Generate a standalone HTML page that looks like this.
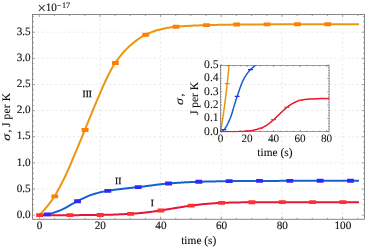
<!DOCTYPE html>
<html><head><meta charset="utf-8"><title>plot</title>
<style>html,body{margin:0;padding:0;background:#fff;}body{width:374px;height:251px;overflow:hidden;font-family:"Liberation Serif",serif;}text{stroke:#111;stroke-width:0.12px;}.cl text{stroke-width:0.25px;}.in text{stroke-width:0.04px;}.in .lb text,.in text.lb{stroke-width:0.1px;}</style>
</head><body>
<svg width="374" height="251" viewBox="0 0 374 251" style="display:block;will-change:transform" text-rendering="geometricPrecision" font-family="'Liberation Serif', serif" font-size="11.4" fill="#111">
<rect width="374" height="251" fill="#fff"/>
<path d="M99.96,14.5 V219.25 M160.62,14.5 V219.25 M221.28,14.5 V219.25 M281.94,14.5 V219.25 M342.60,14.5 V219.25 M32.5,189.02 H364.5 M32.5,162.88 H364.5 M32.5,136.75 H364.5 M32.5,110.61 H364.5 M32.5,84.47 H364.5 M32.5,58.34 H364.5 M32.5,32.20 H364.5" stroke="#e4e4e4" stroke-width="0.8" stroke-dasharray="2.1 2.4" fill="none"/>
<clipPath id="c"><rect x="32.5" y="14.5" width="332.0" height="204.75"/></clipPath>
<clipPath id="ci"><rect x="220.45" y="65.3" width="108.65000000000003" height="66.99999999999999"/></clipPath>
<g clip-path="url(#c)" fill="none" stroke-width="2.0" stroke-linecap="butt">
<path d="M39.30,215.15 L40.37,215.15 L41.44,215.15 L42.51,215.15 L43.58,215.15 L44.65,215.15 L45.71,215.15 L46.78,215.15 L47.85,215.15 L48.92,215.15 L49.99,215.15 L51.06,215.15 L52.13,215.15 L53.20,215.15 L54.27,215.15 L55.34,215.15 L56.41,215.15 L57.48,215.15 L58.54,215.15 L59.61,215.15 L60.68,215.15 L61.75,215.15 L62.82,215.15 L63.89,215.15 L64.96,215.15 L66.03,215.15 L67.10,215.15 L68.17,215.15 L69.24,215.15 L70.31,215.15 L71.37,215.15 L72.44,215.15 L73.51,215.15 L74.58,215.14 L75.65,215.14 L76.72,215.14 L77.79,215.13 L78.86,215.13 L79.93,215.12 L81.00,215.11 L82.07,215.11 L83.14,215.10 L84.20,215.09 L85.27,215.09 L86.34,215.08 L87.41,215.07 L88.48,215.06 L89.55,215.05 L90.62,215.04 L91.69,215.03 L92.76,215.02 L93.83,215.01 L94.90,215.00 L95.97,214.99 L97.03,214.97 L98.10,214.96 L99.17,214.95 L100.24,214.94 L101.31,214.92 L102.38,214.91 L103.45,214.89 L104.52,214.87 L105.59,214.84 L106.66,214.82 L107.73,214.79 L108.80,214.76 L109.86,214.73 L110.93,214.70 L112.00,214.66 L113.07,214.63 L114.14,214.59 L115.21,214.55 L116.28,214.51 L117.35,214.46 L118.42,214.42 L119.49,214.37 L120.56,214.32 L121.63,214.28 L122.69,214.23 L123.76,214.18 L124.83,214.12 L125.90,214.07 L126.97,214.02 L128.04,213.96 L129.11,213.91 L130.18,213.85 L131.25,213.79 L132.32,213.72 L133.39,213.65 L134.46,213.57 L135.52,213.49 L136.59,213.40 L137.66,213.31 L138.73,213.21 L139.80,213.11 L140.87,213.01 L141.94,212.90 L143.01,212.79 L144.08,212.68 L145.15,212.57 L146.22,212.45 L147.28,212.33 L148.35,212.20 L149.42,212.07 L150.49,211.93 L151.56,211.78 L152.63,211.63 L153.70,211.48 L154.77,211.32 L155.84,211.16 L156.91,211.00 L157.98,210.84 L159.05,210.68 L160.11,210.52 L161.18,210.36 L162.25,210.20 L163.32,210.03 L164.39,209.86 L165.46,209.69 L166.53,209.51 L167.60,209.34 L168.67,209.16 L169.74,208.98 L170.81,208.80 L171.88,208.62 L172.94,208.45 L174.01,208.27 L175.08,208.10 L176.15,207.93 L177.22,207.76 L178.29,207.59 L179.36,207.41 L180.43,207.24 L181.50,207.06 L182.57,206.89 L183.64,206.72 L184.71,206.55 L185.77,206.38 L186.84,206.22 L187.91,206.06 L188.98,205.91 L190.05,205.76 L191.12,205.61 L192.19,205.47 L193.26,205.34 L194.33,205.20 L195.40,205.07 L196.47,204.93 L197.54,204.81 L198.60,204.68 L199.67,204.56 L200.74,204.44 L201.81,204.32 L202.88,204.21 L203.95,204.11 L205.02,204.01 L206.09,203.91 L207.16,203.82 L208.23,203.73 L209.30,203.64 L210.37,203.56 L211.43,203.47 L212.50,203.39 L213.57,203.31 L214.64,203.23 L215.71,203.16 L216.78,203.10 L217.85,203.03 L218.92,202.97 L219.99,202.92 L221.06,202.88 L222.13,202.83 L223.20,202.79 L224.26,202.76 L225.33,202.72 L226.40,202.69 L227.47,202.66 L228.54,202.63 L229.61,202.60 L230.68,202.57 L231.75,202.55 L232.82,202.52 L233.89,202.50 L234.96,202.48 L236.03,202.46 L237.09,202.44 L238.16,202.42 L239.23,202.40 L240.30,202.38 L241.37,202.36 L242.44,202.34 L243.51,202.33 L244.58,202.31 L245.65,202.30 L246.72,202.28 L247.79,202.27 L248.85,202.26 L249.92,202.25 L250.99,202.24 L252.06,202.24 L253.13,202.23 L254.20,202.23 L255.27,202.22 L256.34,202.22 L257.41,202.21 L258.48,202.21 L259.55,202.21 L260.62,202.20 L261.68,202.20 L262.75,202.20 L263.82,202.19 L264.89,202.19 L265.96,202.19 L267.03,202.18 L268.10,202.18 L269.17,202.18 L270.24,202.18 L271.31,202.17 L272.38,202.17 L273.45,202.17 L274.51,202.17 L275.58,202.17 L276.65,202.17 L277.72,202.16 L278.79,202.16 L279.86,202.16 L280.93,202.16 L282.00,202.16 L283.07,202.16 L284.14,202.16 L285.21,202.16 L286.28,202.16 L287.34,202.16 L288.41,202.16 L289.48,202.16 L290.55,202.16 L291.62,202.15 L292.69,202.15 L293.76,202.15 L294.83,202.15 L295.90,202.15 L296.97,202.15 L298.04,202.15 L299.11,202.15 L300.17,202.15 L301.24,202.15 L302.31,202.15 L303.38,202.15 L304.45,202.15 L305.52,202.15 L306.59,202.15 L307.66,202.15 L308.73,202.15 L309.80,202.15 L310.87,202.15 L311.94,202.14 L313.00,202.14 L314.07,202.14 L315.14,202.14 L316.21,202.14 L317.28,202.14 L318.35,202.14 L319.42,202.14 L320.49,202.14 L321.56,202.14 L322.63,202.14 L323.70,202.14 L324.77,202.14 L325.83,202.14 L326.90,202.14 L327.97,202.14 L329.04,202.14 L330.11,202.14 L331.18,202.14 L332.25,202.14 L333.32,202.14 L334.39,202.14 L335.46,202.14 L336.53,202.14 L337.60,202.14 L338.66,202.14 L339.73,202.14 L340.80,202.14 L341.87,202.14 L342.94,202.14 L344.01,202.14 L345.08,202.14 L346.15,202.14 L347.22,202.14 L348.29,202.14 L349.36,202.14 L350.42,202.14 L351.49,202.14 L352.56,202.14 L353.63,202.13 L354.70,202.13 L355.77,202.13 L356.84,202.13 L357.91,202.13 L358.98,202.13" stroke="#E61638"/>
<path d="M39.30,215.15 L40.37,215.10 L41.44,215.03 L42.51,214.93 L43.58,214.81 L44.65,214.68 L45.71,214.53 L46.78,214.38 L47.85,214.21 L48.92,214.00 L49.99,213.75 L51.06,213.48 L52.13,213.17 L53.20,212.85 L54.27,212.50 L55.34,212.13 L56.41,211.76 L57.48,211.36 L58.54,210.97 L59.61,210.56 L60.68,210.15 L61.75,209.69 L62.82,209.20 L63.89,208.67 L64.96,208.12 L66.03,207.54 L67.10,206.94 L68.17,206.33 L69.24,205.71 L70.31,205.09 L71.37,204.47 L72.44,203.85 L73.51,203.25 L74.58,202.66 L75.65,202.09 L76.72,201.54 L77.79,201.02 L78.86,200.49 L79.93,199.96 L81.00,199.43 L82.07,198.90 L83.14,198.38 L84.20,197.86 L85.27,197.35 L86.34,196.86 L87.41,196.39 L88.48,195.93 L89.55,195.50 L90.62,195.10 L91.69,194.73 L92.76,194.38 L93.83,194.06 L94.90,193.74 L95.97,193.44 L97.03,193.15 L98.10,192.87 L99.17,192.60 L100.24,192.34 L101.31,192.09 L102.38,191.85 L103.45,191.62 L104.52,191.40 L105.59,191.20 L106.66,191.00 L107.73,190.81 L108.80,190.64 L109.86,190.46 L110.93,190.30 L112.00,190.14 L113.07,189.99 L114.14,189.84 L115.21,189.70 L116.28,189.56 L117.35,189.42 L118.42,189.29 L119.49,189.16 L120.56,189.04 L121.63,188.91 L122.69,188.79 L123.76,188.67 L124.83,188.55 L125.90,188.43 L126.97,188.31 L128.04,188.19 L129.11,188.07 L130.18,187.95 L131.25,187.83 L132.32,187.72 L133.39,187.60 L134.46,187.49 L135.52,187.38 L136.59,187.27 L137.66,187.16 L138.73,187.04 L139.80,186.91 L140.87,186.79 L141.94,186.66 L143.01,186.52 L144.08,186.39 L145.15,186.25 L146.22,186.11 L147.28,185.97 L148.35,185.83 L149.42,185.69 L150.49,185.55 L151.56,185.41 L152.63,185.27 L153.70,185.13 L154.77,184.99 L155.84,184.85 L156.91,184.72 L157.98,184.59 L159.05,184.46 L160.11,184.33 L161.18,184.21 L162.25,184.09 L163.32,183.98 L164.39,183.87 L165.46,183.77 L166.53,183.67 L167.60,183.58 L168.67,183.49 L169.74,183.41 L170.81,183.32 L171.88,183.24 L172.94,183.16 L174.01,183.08 L175.08,183.00 L176.15,182.92 L177.22,182.85 L178.29,182.77 L179.36,182.70 L180.43,182.63 L181.50,182.56 L182.57,182.49 L183.64,182.43 L184.71,182.37 L185.77,182.31 L186.84,182.25 L187.91,182.20 L188.98,182.14 L190.05,182.09 L191.12,182.05 L192.19,182.00 L193.26,181.96 L194.33,181.93 L195.40,181.89 L196.47,181.86 L197.54,181.82 L198.60,181.79 L199.67,181.76 L200.74,181.73 L201.81,181.70 L202.88,181.67 L203.95,181.64 L205.02,181.61 L206.09,181.59 L207.16,181.56 L208.23,181.54 L209.30,181.51 L210.37,181.49 L211.43,181.46 L212.50,181.44 L213.57,181.42 L214.64,181.40 L215.71,181.38 L216.78,181.36 L217.85,181.34 L218.92,181.32 L219.99,181.30 L221.06,181.28 L222.13,181.27 L223.20,181.25 L224.26,181.24 L225.33,181.22 L226.40,181.21 L227.47,181.19 L228.54,181.18 L229.61,181.17 L230.68,181.15 L231.75,181.14 L232.82,181.13 L233.89,181.11 L234.96,181.10 L236.03,181.09 L237.09,181.08 L238.16,181.07 L239.23,181.05 L240.30,181.04 L241.37,181.03 L242.44,181.02 L243.51,181.01 L244.58,181.00 L245.65,180.99 L246.72,180.98 L247.79,180.97 L248.85,180.96 L249.92,180.96 L250.99,180.95 L252.06,180.94 L253.13,180.94 L254.20,180.93 L255.27,180.93 L256.34,180.92 L257.41,180.92 L258.48,180.91 L259.55,180.91 L260.62,180.91 L261.68,180.91 L262.75,180.91 L263.82,180.90 L264.89,180.90 L265.96,180.90 L267.03,180.90 L268.10,180.90 L269.17,180.89 L270.24,180.89 L271.31,180.89 L272.38,180.89 L273.45,180.88 L274.51,180.88 L275.58,180.88 L276.65,180.88 L277.72,180.88 L278.79,180.88 L279.86,180.87 L280.93,180.87 L282.00,180.87 L283.07,180.87 L284.14,180.87 L285.21,180.87 L286.28,180.86 L287.34,180.86 L288.41,180.86 L289.48,180.86 L290.55,180.86 L291.62,180.86 L292.69,180.85 L293.76,180.85 L294.83,180.85 L295.90,180.85 L296.97,180.85 L298.04,180.85 L299.11,180.85 L300.17,180.84 L301.24,180.84 L302.31,180.84 L303.38,180.84 L304.45,180.84 L305.52,180.84 L306.59,180.84 L307.66,180.84 L308.73,180.83 L309.80,180.83 L310.87,180.83 L311.94,180.83 L313.00,180.83 L314.07,180.83 L315.14,180.83 L316.21,180.83 L317.28,180.83 L318.35,180.83 L319.42,180.83 L320.49,180.82 L321.56,180.82 L322.63,180.82 L323.70,180.82 L324.77,180.82 L325.83,180.82 L326.90,180.82 L327.97,180.82 L329.04,180.82 L330.11,180.82 L331.18,180.82 L332.25,180.82 L333.32,180.82 L334.39,180.82 L335.46,180.81 L336.53,180.81 L337.60,180.81 L338.66,180.81 L339.73,180.81 L340.80,180.81 L341.87,180.81 L342.94,180.81 L344.01,180.81 L345.08,180.81 L346.15,180.81 L347.22,180.81 L348.29,180.81 L349.36,180.81 L350.42,180.81 L351.49,180.81 L352.56,180.81 L353.63,180.81 L354.70,180.81 L355.77,180.81 L356.84,180.81 L357.91,180.81 L358.98,180.81" stroke="#1560D0"/>
<path d="M39.30,215.15 L40.37,214.10 L41.44,213.00 L42.51,211.86 L43.58,210.67 L44.65,209.45 L45.71,208.20 L46.78,206.91 L47.85,205.58 L48.92,204.22 L49.99,202.81 L51.06,201.35 L52.13,199.84 L53.20,198.27 L54.27,196.64 L55.34,194.94 L56.41,193.15 L57.48,191.28 L58.54,189.35 L59.61,187.36 L60.68,185.32 L61.75,183.23 L62.82,181.10 L63.89,178.94 L64.96,176.72 L66.03,174.44 L67.10,172.09 L68.17,169.70 L69.24,167.26 L70.31,164.78 L71.37,162.28 L72.44,159.76 L73.51,157.22 L74.58,154.68 L75.65,152.15 L76.72,149.62 L77.79,147.07 L78.86,144.49 L79.93,141.88 L81.00,139.26 L82.07,136.63 L83.14,134.00 L84.20,131.39 L85.27,128.79 L86.34,126.18 L87.41,123.56 L88.48,120.94 L89.55,118.32 L90.62,115.70 L91.69,113.10 L92.76,110.50 L93.83,107.92 L94.90,105.36 L95.97,102.83 L97.03,100.33 L98.10,97.84 L99.17,95.34 L100.24,92.83 L101.31,90.34 L102.38,87.88 L103.45,85.44 L104.52,83.05 L105.59,80.72 L106.66,78.45 L107.73,76.27 L108.80,74.16 L109.86,72.09 L110.93,70.08 L112.00,68.13 L113.07,66.27 L114.14,64.53 L115.21,62.92 L116.28,61.40 L117.35,59.92 L118.42,58.49 L119.49,57.09 L120.56,55.75 L121.63,54.44 L122.69,53.18 L123.76,51.97 L124.83,50.79 L125.90,49.67 L126.97,48.59 L128.04,47.55 L129.11,46.56 L130.18,45.61 L131.25,44.68 L132.32,43.76 L133.39,42.87 L134.46,42.01 L135.52,41.16 L136.59,40.35 L137.66,39.56 L138.73,38.80 L139.80,38.07 L140.87,37.38 L141.94,36.72 L143.01,36.10 L144.08,35.51 L145.15,34.97 L146.22,34.46 L147.28,33.97 L148.35,33.49 L149.42,33.03 L150.49,32.59 L151.56,32.16 L152.63,31.76 L153.70,31.37 L154.77,31.00 L155.84,30.65 L156.91,30.32 L157.98,30.01 L159.05,29.72 L160.11,29.45 L161.18,29.20 L162.25,28.96 L163.32,28.72 L164.39,28.49 L165.46,28.27 L166.53,28.05 L167.60,27.85 L168.67,27.66 L169.74,27.48 L170.81,27.31 L171.88,27.16 L172.94,27.02 L174.01,26.89 L175.08,26.78 L176.15,26.69 L177.22,26.60 L178.29,26.51 L179.36,26.43 L180.43,26.35 L181.50,26.28 L182.57,26.20 L183.64,26.13 L184.71,26.06 L185.77,26.00 L186.84,25.94 L187.91,25.88 L188.98,25.82 L190.05,25.76 L191.12,25.71 L192.19,25.66 L193.26,25.61 L194.33,25.56 L195.40,25.51 L196.47,25.47 L197.54,25.43 L198.60,25.39 L199.67,25.35 L200.74,25.31 L201.81,25.28 L202.88,25.24 L203.95,25.21 L205.02,25.18 L206.09,25.15 L207.16,25.12 L208.23,25.09 L209.30,25.06 L210.37,25.04 L211.43,25.01 L212.50,24.98 L213.57,24.96 L214.64,24.93 L215.71,24.91 L216.78,24.88 L217.85,24.86 L218.92,24.84 L219.99,24.82 L221.06,24.79 L222.13,24.77 L223.20,24.75 L224.26,24.74 L225.33,24.72 L226.40,24.70 L227.47,24.68 L228.54,24.67 L229.61,24.65 L230.68,24.64 L231.75,24.62 L232.82,24.61 L233.89,24.60 L234.96,24.59 L236.03,24.58 L237.09,24.57 L238.16,24.56 L239.23,24.55 L240.30,24.54 L241.37,24.53 L242.44,24.52 L243.51,24.51 L244.58,24.50 L245.65,24.50 L246.72,24.49 L247.79,24.48 L248.85,24.47 L249.92,24.46 L250.99,24.46 L252.06,24.45 L253.13,24.44 L254.20,24.43 L255.27,24.43 L256.34,24.42 L257.41,24.41 L258.48,24.41 L259.55,24.40 L260.62,24.40 L261.68,24.39 L262.75,24.38 L263.82,24.38 L264.89,24.37 L265.96,24.37 L267.03,24.36 L268.10,24.36 L269.17,24.35 L270.24,24.35 L271.31,24.35 L272.38,24.34 L273.45,24.34 L274.51,24.33 L275.58,24.33 L276.65,24.33 L277.72,24.32 L278.79,24.32 L279.86,24.32 L280.93,24.31 L282.00,24.31 L283.07,24.31 L284.14,24.31 L285.21,24.30 L286.28,24.30 L287.34,24.30 L288.41,24.30 L289.48,24.30 L290.55,24.29 L291.62,24.29 L292.69,24.29 L293.76,24.29 L294.83,24.28 L295.90,24.28 L296.97,24.28 L298.04,24.28 L299.11,24.28 L300.17,24.27 L301.24,24.27 L302.31,24.27 L303.38,24.27 L304.45,24.27 L305.52,24.26 L306.59,24.26 L307.66,24.26 L308.73,24.26 L309.80,24.26 L310.87,24.25 L311.94,24.25 L313.00,24.25 L314.07,24.25 L315.14,24.25 L316.21,24.25 L317.28,24.24 L318.35,24.24 L319.42,24.24 L320.49,24.24 L321.56,24.24 L322.63,24.24 L323.70,24.23 L324.77,24.23 L325.83,24.23 L326.90,24.23 L327.97,24.23 L329.04,24.23 L330.11,24.23 L331.18,24.23 L332.25,24.22 L333.32,24.22 L334.39,24.22 L335.46,24.22 L336.53,24.22 L337.60,24.22 L338.66,24.22 L339.73,24.22 L340.80,24.22 L341.87,24.21 L342.94,24.21 L344.01,24.21 L345.08,24.21 L346.15,24.21 L347.22,24.21 L348.29,24.21 L349.36,24.21 L350.42,24.21 L351.49,24.21 L352.56,24.21 L353.63,24.21 L354.70,24.21 L355.77,24.21 L356.84,24.21 L357.91,24.21 L358.98,24.21" stroke="#EB9610"/>
</g>
<rect x="43.78" y="212.42" width="6.8" height="3.9" rx="0.2" fill="#3028FA"/><rect x="74.11" y="199.35" width="6.8" height="3.9" rx="0.2" fill="#3028FA"/><rect x="104.44" y="188.89" width="6.8" height="3.9" rx="0.2" fill="#3028FA"/><rect x="134.77" y="185.18" width="6.8" height="3.9" rx="0.2" fill="#3028FA"/><rect x="165.10" y="181.58" width="6.8" height="3.9" rx="0.2" fill="#3028FA"/><rect x="195.43" y="179.84" width="6.8" height="3.9" rx="0.2" fill="#3028FA"/><rect x="225.76" y="179.22" width="6.8" height="3.9" rx="0.2" fill="#3028FA"/><rect x="256.09" y="178.96" width="6.8" height="3.9" rx="0.2" fill="#3028FA"/><rect x="286.42" y="178.91" width="6.8" height="3.9" rx="0.2" fill="#3028FA"/><rect x="316.75" y="178.87" width="6.8" height="3.9" rx="0.2" fill="#3028FA"/><rect x="347.08" y="178.86" width="6.8" height="3.9" rx="0.2" fill="#3028FA"/><rect x="51.36" y="194.38" width="6.8" height="3.9" rx="0.2" fill="#FF8000"/><rect x="81.69" y="128.00" width="6.8" height="3.9" rx="0.2" fill="#FF8000"/><rect x="112.02" y="61.09" width="6.8" height="3.9" rx="0.2" fill="#FF8000"/><rect x="142.35" y="32.87" width="6.8" height="3.9" rx="0.2" fill="#FF8000"/><rect x="172.68" y="24.77" width="6.8" height="3.9" rx="0.2" fill="#FF8000"/><rect x="203.02" y="23.20" width="6.8" height="3.9" rx="0.2" fill="#FF8000"/><rect x="233.34" y="22.62" width="6.8" height="3.9" rx="0.2" fill="#FF8000"/><rect x="263.68" y="22.41" width="6.8" height="3.9" rx="0.2" fill="#FF8000"/><rect x="294.01" y="22.33" width="6.8" height="3.9" rx="0.2" fill="#FF8000"/><rect x="324.34" y="22.28" width="6.8" height="3.9" rx="0.2" fill="#FF8000"/><rect x="66.53" y="213.20" width="6.8" height="3.9" rx="0.2" fill="#FF3030"/><rect x="96.86" y="212.99" width="6.8" height="3.9" rx="0.2" fill="#FF3030"/><rect x="127.19" y="211.89" width="6.8" height="3.9" rx="0.2" fill="#FF3030"/><rect x="157.52" y="208.50" width="6.8" height="3.9" rx="0.2" fill="#FF3030"/><rect x="187.85" y="203.69" width="6.8" height="3.9" rx="0.2" fill="#FF3030"/><rect x="218.18" y="200.92" width="6.8" height="3.9" rx="0.2" fill="#FF3030"/><rect x="248.51" y="200.29" width="6.8" height="3.9" rx="0.2" fill="#FF3030"/><rect x="278.84" y="200.21" width="6.8" height="3.9" rx="0.2" fill="#FF3030"/><rect x="309.17" y="200.19" width="6.8" height="3.9" rx="0.2" fill="#FF3030"/><rect x="339.50" y="200.19" width="6.8" height="3.9" rx="0.2" fill="#FF3030"/><rect x="36.20" y="213.20" width="6.8" height="3.9" rx="0.2" fill="#FF3030"/>
<rect x="32.5" y="14.5" width="332.0" height="204.75" fill="none" stroke="#6a6a6a" stroke-width="0.8"/>
<path d="M39.30,219.25 v-2.6 M39.30,14.5 v2.6 M54.46,219.25 v-1.5 M54.46,14.5 v1.5 M69.63,219.25 v-1.5 M69.63,14.5 v1.5 M84.79,219.25 v-1.5 M84.79,14.5 v1.5 M99.96,219.25 v-2.6 M99.96,14.5 v2.6 M115.12,219.25 v-1.5 M115.12,14.5 v1.5 M130.29,219.25 v-1.5 M130.29,14.5 v1.5 M145.45,219.25 v-1.5 M145.45,14.5 v1.5 M160.62,219.25 v-2.6 M160.62,14.5 v2.6 M175.78,219.25 v-1.5 M175.78,14.5 v1.5 M190.95,219.25 v-1.5 M190.95,14.5 v1.5 M206.12,219.25 v-1.5 M206.12,14.5 v1.5 M221.28,219.25 v-2.6 M221.28,14.5 v2.6 M236.44,219.25 v-1.5 M236.44,14.5 v1.5 M251.61,219.25 v-1.5 M251.61,14.5 v1.5 M266.77,219.25 v-1.5 M266.77,14.5 v1.5 M281.94,219.25 v-2.6 M281.94,14.5 v2.6 M297.11,219.25 v-1.5 M297.11,14.5 v1.5 M312.27,219.25 v-1.5 M312.27,14.5 v1.5 M327.44,219.25 v-1.5 M327.44,14.5 v1.5 M342.60,219.25 v-2.6 M342.60,14.5 v2.6 M357.76,219.25 v-1.5 M357.76,14.5 v1.5 M32.5,215.15 h2.6 M364.5,215.15 h-2.6 M32.5,209.92 h1.5 M364.5,209.92 h-1.5 M32.5,204.70 h1.5 M364.5,204.70 h-1.5 M32.5,199.47 h1.5 M364.5,199.47 h-1.5 M32.5,194.24 h1.5 M364.5,194.24 h-1.5 M32.5,189.02 h2.6 M364.5,189.02 h-2.6 M32.5,183.79 h1.5 M364.5,183.79 h-1.5 M32.5,178.56 h1.5 M364.5,178.56 h-1.5 M32.5,173.33 h1.5 M364.5,173.33 h-1.5 M32.5,168.11 h1.5 M364.5,168.11 h-1.5 M32.5,162.88 h2.6 M364.5,162.88 h-2.6 M32.5,157.65 h1.5 M364.5,157.65 h-1.5 M32.5,152.43 h1.5 M364.5,152.43 h-1.5 M32.5,147.20 h1.5 M364.5,147.20 h-1.5 M32.5,141.97 h1.5 M364.5,141.97 h-1.5 M32.5,136.75 h2.6 M364.5,136.75 h-2.6 M32.5,131.52 h1.5 M364.5,131.52 h-1.5 M32.5,126.29 h1.5 M364.5,126.29 h-1.5 M32.5,121.06 h1.5 M364.5,121.06 h-1.5 M32.5,115.84 h1.5 M364.5,115.84 h-1.5 M32.5,110.61 h2.6 M364.5,110.61 h-2.6 M32.5,105.38 h1.5 M364.5,105.38 h-1.5 M32.5,100.16 h1.5 M364.5,100.16 h-1.5 M32.5,94.93 h1.5 M364.5,94.93 h-1.5 M32.5,89.70 h1.5 M364.5,89.70 h-1.5 M32.5,84.47 h2.6 M364.5,84.47 h-2.6 M32.5,79.25 h1.5 M364.5,79.25 h-1.5 M32.5,74.02 h1.5 M364.5,74.02 h-1.5 M32.5,68.79 h1.5 M364.5,68.79 h-1.5 M32.5,63.57 h1.5 M364.5,63.57 h-1.5 M32.5,58.34 h2.6 M364.5,58.34 h-2.6 M32.5,53.11 h1.5 M364.5,53.11 h-1.5 M32.5,47.89 h1.5 M364.5,47.89 h-1.5 M32.5,42.66 h1.5 M364.5,42.66 h-1.5 M32.5,37.43 h1.5 M364.5,37.43 h-1.5 M32.5,32.20 h2.6 M364.5,32.20 h-2.6 M32.5,26.98 h1.5 M364.5,26.98 h-1.5 M32.5,21.75 h1.5 M364.5,21.75 h-1.5 M32.5,16.52 h1.5 M364.5,16.52 h-1.5" stroke="#808080" stroke-width="0.7" fill="none"/>
<text x="39.60" y="228.95" font-size="11.2" text-anchor="middle">0</text>
<text x="100.26" y="228.95" font-size="11.2" text-anchor="middle">20</text>
<text x="160.92" y="228.95" font-size="11.2" text-anchor="middle">40</text>
<text x="221.58" y="228.95" font-size="11.2" text-anchor="middle">60</text>
<text x="282.24" y="228.95" font-size="11.2" text-anchor="middle">80</text>
<text x="342.90" y="228.95" font-size="11.2" text-anchor="middle">100</text>
<text x="30.7" y="217.80" font-size="11.2" text-anchor="end">0.0</text>
<text x="30.7" y="191.67" font-size="11.2" text-anchor="end">0.5</text>
<text x="30.7" y="165.53" font-size="11.2" text-anchor="end">1.0</text>
<text x="30.7" y="139.40" font-size="11.2" text-anchor="end">1.5</text>
<text x="30.7" y="113.26" font-size="11.2" text-anchor="end">2.0</text>
<text x="30.7" y="87.12" font-size="11.2" text-anchor="end">2.5</text>
<text x="30.7" y="60.99" font-size="11.2" text-anchor="end">3.0</text>
<text x="30.7" y="34.85" font-size="11.2" text-anchor="end">3.5</text>
<text x="198.75" y="243.9" text-anchor="middle">time (s)</text>
<g transform="translate(10,0) rotate(-90)" font-size="11.5"><text x="-140.7" y="0" font-style="italic" textLength="6.85" lengthAdjust="spacingAndGlyphs">σ</text><text x="-132.6" y="0">,</text><text x="-127.0" y="0" textLength="34" lengthAdjust="spacing">J per K</text></g>
<text x="37.5" y="13.2" font-size="15">×</text><text x="45.65" y="11.35" font-size="11.2">10</text><text x="56.7" y="7.5" font-size="8.2">−</text><text x="61.9" y="7.5" font-size="8.2">17</text>
<g font-size="9.4" text-anchor="middle" fill="#000" style="stroke-width:0.25px" class="cl"><text x="152.3" y="205.6">I</text><text x="118.2" y="183.9">II</text><text x="87.3" y="96.5">III</text></g>
<g clip-path="url(#ci)" fill="none" stroke-width="1.5">
<path d="M220.60,131.70 L220.96,131.70 L221.33,131.70 L221.69,131.70 L222.05,131.70 L222.42,131.70 L222.78,131.70 L223.14,131.70 L223.51,131.70 L223.87,131.70 L224.23,131.70 L224.60,131.70 L224.96,131.70 L225.32,131.70 L225.69,131.70 L226.05,131.70 L226.41,131.70 L226.78,131.70 L227.14,131.70 L227.50,131.70 L227.87,131.70 L228.23,131.70 L228.59,131.70 L228.96,131.70 L229.32,131.70 L229.68,131.70 L230.05,131.70 L230.41,131.70 L230.77,131.70 L231.14,131.70 L231.50,131.70 L231.86,131.70 L232.23,131.70 L232.59,131.70 L232.95,131.70 L233.32,131.70 L233.68,131.70 L234.04,131.70 L234.41,131.70 L234.77,131.70 L235.14,131.69 L235.50,131.69 L235.86,131.68 L236.23,131.68 L236.59,131.67 L236.95,131.66 L237.32,131.65 L237.68,131.65 L238.04,131.63 L238.41,131.62 L238.77,131.61 L239.13,131.60 L239.50,131.59 L239.86,131.57 L240.22,131.56 L240.59,131.54 L240.95,131.52 L241.31,131.51 L241.68,131.49 L242.04,131.47 L242.40,131.45 L242.77,131.43 L243.13,131.41 L243.49,131.39 L243.86,131.37 L244.22,131.35 L244.58,131.33 L244.95,131.31 L245.31,131.28 L245.67,131.26 L246.04,131.24 L246.40,131.21 L246.76,131.19 L247.13,131.16 L247.49,131.14 L247.85,131.11 L248.22,131.07 L248.58,131.04 L248.94,131.00 L249.31,130.95 L249.67,130.90 L250.03,130.85 L250.40,130.80 L250.76,130.74 L251.12,130.68 L251.49,130.62 L251.85,130.55 L252.21,130.48 L252.58,130.41 L252.94,130.34 L253.30,130.26 L253.67,130.18 L254.03,130.10 L254.39,130.02 L254.76,129.93 L255.12,129.84 L255.48,129.75 L255.85,129.66 L256.21,129.56 L256.57,129.47 L256.94,129.37 L257.30,129.27 L257.66,129.17 L258.03,129.06 L258.39,128.96 L258.75,128.85 L259.12,128.74 L259.48,128.63 L259.84,128.52 L260.21,128.41 L260.57,128.29 L260.93,128.17 L261.30,128.03 L261.66,127.89 L262.03,127.74 L262.39,127.58 L262.75,127.41 L263.12,127.23 L263.48,127.05 L263.84,126.86 L264.21,126.66 L264.57,126.46 L264.93,126.26 L265.30,126.05 L265.66,125.83 L266.02,125.61 L266.39,125.39 L266.75,125.17 L267.11,124.94 L267.48,124.71 L267.84,124.46 L268.20,124.20 L268.57,123.94 L268.93,123.66 L269.29,123.38 L269.66,123.09 L270.02,122.79 L270.38,122.49 L270.75,122.18 L271.11,121.87 L271.47,121.56 L271.84,121.24 L272.20,120.92 L272.56,120.60 L272.93,120.28 L273.29,119.96 L273.65,119.65 L274.02,119.33 L274.38,119.00 L274.74,118.67 L275.11,118.33 L275.47,117.99 L275.83,117.64 L276.20,117.30 L276.56,116.95 L276.92,116.59 L277.29,116.24 L277.65,115.89 L278.01,115.53 L278.38,115.18 L278.74,114.83 L279.10,114.48 L279.47,114.13 L279.83,113.79 L280.19,113.45 L280.56,113.11 L280.92,112.77 L281.28,112.43 L281.65,112.08 L282.01,111.74 L282.37,111.39 L282.74,111.05 L283.10,110.70 L283.46,110.36 L283.83,110.02 L284.19,109.69 L284.55,109.35 L284.92,109.03 L285.28,108.71 L285.64,108.40 L286.01,108.09 L286.37,107.80 L286.73,107.51 L287.10,107.23 L287.46,106.95 L287.82,106.68 L288.19,106.41 L288.55,106.14 L288.92,105.88 L289.28,105.62 L289.64,105.36 L290.01,105.11 L290.37,104.86 L290.73,104.62 L291.10,104.38 L291.46,104.16 L291.82,103.93 L292.19,103.72 L292.55,103.51 L292.91,103.31 L293.28,103.12 L293.64,102.94 L294.00,102.76 L294.37,102.58 L294.73,102.40 L295.09,102.22 L295.46,102.05 L295.82,101.89 L296.18,101.72 L296.55,101.56 L296.91,101.41 L297.27,101.26 L297.64,101.12 L298.00,100.98 L298.36,100.85 L298.73,100.73 L299.09,100.62 L299.45,100.52 L299.82,100.42 L300.18,100.33 L300.54,100.25 L300.91,100.17 L301.27,100.10 L301.63,100.03 L302.00,99.96 L302.36,99.89 L302.72,99.83 L303.09,99.77 L303.45,99.71 L303.81,99.65 L304.18,99.60 L304.54,99.55 L304.90,99.50 L305.27,99.45 L305.63,99.41 L305.99,99.37 L306.36,99.32 L306.72,99.28 L307.08,99.25 L307.45,99.21 L307.81,99.17 L308.17,99.13 L308.54,99.09 L308.90,99.06 L309.26,99.02 L309.63,98.99 L309.99,98.95 L310.35,98.92 L310.72,98.89 L311.08,98.87 L311.44,98.84 L311.81,98.82 L312.17,98.80 L312.53,98.78 L312.90,98.77 L313.26,98.75 L313.62,98.74 L313.99,98.73 L314.35,98.72 L314.71,98.71 L315.08,98.71 L315.44,98.70 L315.81,98.69 L316.17,98.68 L316.53,98.67 L316.90,98.67 L317.26,98.66 L317.62,98.65 L317.99,98.64 L318.35,98.64 L318.71,98.63 L319.08,98.63 L319.44,98.62 L319.80,98.61 L320.17,98.61 L320.53,98.60 L320.89,98.60 L321.26,98.59 L321.62,98.59 L321.98,98.58 L322.35,98.58 L322.71,98.58 L323.07,98.57 L323.44,98.57 L323.80,98.57 L324.16,98.56 L324.53,98.56 L324.89,98.56 L325.25,98.56 L325.62,98.55 L325.98,98.55 L326.34,98.55 L326.71,98.55 L327.07,98.55 L327.43,98.55 L327.80,98.55 L328.16,98.54 L328.52,98.54 L328.89,98.54 L329.25,98.54" stroke="#E61638"/>
<path d="M220.60,131.70 L220.96,131.61 L221.33,131.48 L221.69,131.31 L222.05,131.11 L222.42,130.88 L222.78,130.62 L223.14,130.34 L223.51,130.04 L223.87,129.74 L224.23,129.40 L224.60,129.00 L224.96,128.55 L225.32,128.05 L225.69,127.51 L226.05,126.92 L226.41,126.29 L226.78,125.63 L227.14,124.93 L227.50,124.21 L227.87,123.47 L228.23,122.70 L228.59,121.92 L228.96,121.13 L229.32,120.33 L229.68,119.53 L230.05,118.68 L230.41,117.76 L230.77,116.79 L231.14,115.76 L231.50,114.69 L231.86,113.58 L232.23,112.43 L232.59,111.25 L232.95,110.05 L233.32,108.83 L233.68,107.60 L234.04,106.37 L234.41,105.13 L234.77,103.90 L235.14,102.68 L235.50,101.48 L235.86,100.30 L236.23,99.15 L236.59,98.03 L236.95,96.95 L237.32,95.92 L237.68,94.88 L238.04,93.83 L238.41,92.77 L238.77,91.72 L239.13,90.66 L239.50,89.62 L239.86,88.58 L240.22,87.55 L240.59,86.55 L240.95,85.56 L241.31,84.60 L241.68,83.67 L242.04,82.77 L242.40,81.90 L242.77,81.08 L243.13,80.30 L243.49,79.56 L243.86,78.88 L244.22,78.23 L244.58,77.59 L244.95,76.97 L245.31,76.37 L245.67,75.78 L246.04,75.21 L246.40,74.66 L246.76,74.13 L247.13,73.61 L247.49,73.11 L247.85,72.62 L248.22,72.15 L248.58,71.70 L248.94,71.27 L249.31,70.85 L249.67,70.44 L250.03,70.06 L250.40,69.68 L250.76,69.33 L251.12,68.98 L251.49,68.64 L251.85,68.32 L252.21,68.00 L252.58,67.69 L252.94,67.39 L253.30,67.10 L253.67,66.81 L254.03,66.53 L254.39,66.26 L254.76,66.00 L255.12,65.73 L255.48,65.48 L255.85,65.23 L256.21,64.98 L256.57,64.73 L256.94,64.49 L257.30,64.25 L257.66,64.01 L258.03,63.77 L258.39,63.53 L258.75,63.30 L259.12,63.06 L259.48,62.82 L259.84,62.58 L260.21,62.34 L260.57,62.10 L260.93,61.87 L261.30,61.64 L261.66,61.42 L262.03,61.21 L262.39,60.99 L262.75,60.77 L263.12,60.54 L263.48,60.32 L263.84,60.08 L264.21,59.84 L264.57,59.59 L264.93,59.34 L265.30,59.08 L265.66,58.82 L266.02,58.55 L266.39,58.29 L266.75,58.01 L267.11,57.74 L267.48,57.46 L267.84,57.18 L268.20,56.90 L268.57,56.62 L268.93,56.34 L269.29,56.06 L269.66,55.78 L270.02,55.50 L270.38,55.22 L270.75,54.95 L271.11,54.67 L271.47,54.40 L271.84,54.13 L272.20,53.87 L272.56,53.61 L272.93,53.36 L273.29,53.11 L273.65,52.86 L274.02,52.62 L274.38,52.39 L274.74,52.17 L275.11,51.95 L275.47,51.74 L275.83,51.54 L276.20,51.35 L276.56,51.16 L276.92,50.99 L277.29,50.82 L277.65,50.65 L278.01,50.49 L278.38,50.32 L278.74,50.16 L279.10,50.00 L279.47,49.84 L279.83,49.68 L280.19,49.53 L280.56,49.38 L280.92,49.23 L281.28,49.08 L281.65,48.94 L282.01,48.80 L282.37,48.66 L282.74,48.52 L283.10,48.39 L283.46,48.26 L283.83,48.14 L284.19,48.01 L284.55,47.90 L284.92,47.78 L285.28,47.67 L285.64,47.56 L286.01,47.46 L286.37,47.36 L286.73,47.27 L287.10,47.18 L287.46,47.09 L287.82,47.01 L288.19,46.93 L288.55,46.86 L288.92,46.79 L289.28,46.73 L289.64,46.66 L290.01,46.60 L290.37,46.53 L290.73,46.47 L291.10,46.41 L291.46,46.35 L291.82,46.29 L292.19,46.24 L292.55,46.18 L292.91,46.12 L293.28,46.07 L293.64,46.02 L294.00,45.97 L294.37,45.92 L294.73,45.87 L295.09,45.82 L295.46,45.77 L295.82,45.73 L296.18,45.68 L296.55,45.64 L296.91,45.59 L297.27,45.55 L297.64,45.51 L298.00,45.47 L298.36,45.43 L298.73,45.40 L299.09,45.36 L299.45,45.32 L299.82,45.29 L300.18,45.25 L300.54,45.22 L300.91,45.19 L301.27,45.16 L301.63,45.13 L302.00,45.10 L302.36,45.07 L302.72,45.04 L303.09,45.01 L303.45,44.99 L303.81,44.96 L304.18,44.94 L304.54,44.91 L304.90,44.88 L305.27,44.86 L305.63,44.83 L305.99,44.81 L306.36,44.79 L306.72,44.76 L307.08,44.74 L307.45,44.71 L307.81,44.69 L308.17,44.67 L308.54,44.65 L308.90,44.62 L309.26,44.60 L309.63,44.58 L309.99,44.56 L310.35,44.54 L310.72,44.52 L311.08,44.50 L311.44,44.49 L311.81,44.47 L312.17,44.45 L312.53,44.44 L312.90,44.42 L313.26,44.41 L313.62,44.40 L313.99,44.38 L314.35,44.37 L314.71,44.36 L315.08,44.35 L315.44,44.34 L315.81,44.34 L316.17,44.33 L316.53,44.32 L316.90,44.32 L317.26,44.32 L317.62,44.31 L317.99,44.31 L318.35,44.30 L318.71,44.30 L319.08,44.29 L319.44,44.29 L319.80,44.29 L320.17,44.28 L320.53,44.28 L320.89,44.27 L321.26,44.27 L321.62,44.26 L321.98,44.26 L322.35,44.26 L322.71,44.25 L323.07,44.25 L323.44,44.25 L323.80,44.24 L324.16,44.24 L324.53,44.23 L324.89,44.23 L325.25,44.23 L325.62,44.22 L325.98,44.22 L326.34,44.22 L326.71,44.21 L327.07,44.21 L327.43,44.21 L327.80,44.20 L328.16,44.20 L328.52,44.20 L328.89,44.19 L329.25,44.19" stroke="#1560D0"/>
<path d="M220.60,131.70 L220.96,129.62 L221.33,127.46 L221.69,125.24 L222.05,122.96 L222.42,120.61 L222.78,118.21 L223.14,115.75 L223.51,113.23 L223.87,110.66 L224.23,108.03 L224.60,105.35 L224.96,102.60 L225.32,99.79 L225.69,96.89 L226.05,93.92 L226.41,90.86 L226.78,87.70 L227.14,84.44 L227.50,81.08 L227.87,77.58 L228.23,73.96 L228.59,70.23 L228.96,66.39 L229.32,62.46 L229.68,58.45 L230.05,54.36 L230.41,50.20 L230.77,45.98 L231.14,41.72 L231.50,37.39 L231.86,32.95 L232.23,28.41 L232.59,23.78 L232.95,19.06 L233.32,14.27 L233.68,9.42 L234.04,4.52 L234.41,-0.44 L234.77,-5.42 L235.14,-10.44 L235.50,-15.47 L235.86,-20.51 L236.23,-25.55 L236.59,-30.58 L236.95,-35.60 L237.32,-40.66 L237.68,-45.77 L238.04,-50.92 L238.41,-56.11 L238.77,-61.31 L239.13,-66.53 L239.50,-71.75 L239.86,-76.96 L240.22,-82.15 L240.59,-87.31 L240.95,-92.48 L241.31,-97.67 L241.68,-102.87 L242.04,-108.07 L242.40,-113.28 L242.77,-118.48 L243.13,-123.67 L243.49,-128.85 L243.86,-134.00 L244.22,-139.13 L244.58,-144.24 L244.95,-149.30 L245.31,-154.33 L245.67,-159.31 L246.04,-164.25 L246.40,-169.21 L246.76,-174.18 L247.13,-179.15 L247.49,-184.10 L247.85,-189.03 L248.22,-193.92 L248.58,-198.75 L248.94,-203.51 L249.31,-208.20 L249.67,-212.79 L250.03,-217.27 L250.40,-221.63 L250.76,-225.85 L251.12,-229.99 L251.49,-234.07 L251.85,-238.07 L252.21,-241.97 L252.58,-245.74 L252.94,-249.36 L253.30,-252.78 L253.67,-256.00 L254.03,-259.05 L254.39,-262.03 L254.76,-264.95 L255.12,-267.80 L255.48,-270.58 L255.85,-273.29 L256.21,-275.94 L256.57,-278.52 L256.94,-281.03 L257.30,-283.47 L257.66,-285.84 L258.03,-288.15 L258.39,-290.38 L258.75,-292.55 L259.12,-294.64 L259.48,-296.66 L259.84,-298.62 L260.21,-300.51 L260.57,-302.37 L260.93,-304.21 L261.30,-306.01 L261.66,-307.78 L262.03,-309.51 L262.39,-311.20 L262.75,-312.86 L263.12,-314.47 L263.48,-316.04 L263.84,-317.57 L264.21,-319.04 L264.57,-320.47 L264.93,-321.85 L265.30,-323.17 L265.66,-324.44 L266.02,-325.65 L266.39,-326.80 L266.75,-327.88 L267.11,-328.91 L267.48,-329.91 L267.84,-330.88 L268.20,-331.82 L268.57,-332.74 L268.93,-333.63 L269.29,-334.50 L269.66,-335.33 L270.02,-336.14 L270.38,-336.92 L270.75,-337.68 L271.11,-338.40 L271.47,-339.09 L271.84,-339.76 L272.20,-340.39 L272.56,-340.99 L272.93,-341.56 L273.29,-342.10 L273.65,-342.61 L274.02,-343.10 L274.38,-343.58 L274.74,-344.05 L275.11,-344.51 L275.47,-344.96 L275.83,-345.39 L276.20,-345.81 L276.56,-346.22 L276.92,-346.60 L277.29,-346.97 L277.65,-347.33 L278.01,-347.66 L278.38,-347.97 L278.74,-348.26 L279.10,-348.53 L279.47,-348.78 L279.83,-349.00 L280.19,-349.19 L280.56,-349.37 L280.92,-349.54 L281.28,-349.71 L281.65,-349.87 L282.01,-350.03 L282.37,-350.19 L282.74,-350.34 L283.10,-350.48 L283.46,-350.62 L283.83,-350.76 L284.19,-350.90 L284.55,-351.03 L284.92,-351.15 L285.28,-351.27 L285.64,-351.39 L286.01,-351.51 L286.37,-351.62 L286.73,-351.72 L287.10,-351.83 L287.46,-351.93 L287.82,-352.03 L288.19,-352.12 L288.55,-352.22 L288.92,-352.30 L289.28,-352.39 L289.64,-352.47 L290.01,-352.55 L290.37,-352.63 L290.73,-352.71 L291.10,-352.78 L291.46,-352.85 L291.82,-352.92 L292.19,-352.99 L292.55,-353.05 L292.91,-353.12 L293.28,-353.18 L293.64,-353.24 L294.00,-353.29 L294.37,-353.35 L294.73,-353.41 L295.09,-353.46 L295.46,-353.52 L295.82,-353.57 L296.18,-353.62 L296.55,-353.67 L296.91,-353.72 L297.27,-353.77 L297.64,-353.82 L298.00,-353.87 L298.36,-353.92 L298.73,-353.96 L299.09,-354.01 L299.45,-354.05 L299.82,-354.09 L300.18,-354.13 L300.54,-354.17 L300.91,-354.21 L301.27,-354.25 L301.63,-354.29 L302.00,-354.32 L302.36,-354.36 L302.72,-354.39 L303.09,-354.42 L303.45,-354.45 L303.81,-354.48 L304.18,-354.51 L304.54,-354.54 L304.90,-354.56 L305.27,-354.59 L305.63,-354.61 L305.99,-354.63 L306.36,-354.66 L306.72,-354.68 L307.08,-354.70 L307.45,-354.71 L307.81,-354.73 L308.17,-354.75 L308.54,-354.77 L308.90,-354.79 L309.26,-354.81 L309.63,-354.82 L309.99,-354.84 L310.35,-354.86 L310.72,-354.87 L311.08,-354.89 L311.44,-354.91 L311.81,-354.92 L312.17,-354.94 L312.53,-354.95 L312.90,-354.97 L313.26,-354.98 L313.62,-355.00 L313.99,-355.01 L314.35,-355.03 L314.71,-355.04 L315.08,-355.05 L315.44,-355.07 L315.81,-355.08 L316.17,-355.09 L316.53,-355.11 L316.90,-355.12 L317.26,-355.13 L317.62,-355.14 L317.99,-355.15 L318.35,-355.16 L318.71,-355.17 L319.08,-355.18 L319.44,-355.20 L319.80,-355.21 L320.17,-355.21 L320.53,-355.22 L320.89,-355.23 L321.26,-355.24 L321.62,-355.25 L321.98,-355.26 L322.35,-355.27 L322.71,-355.28 L323.07,-355.28 L323.44,-355.29 L323.80,-355.30 L324.16,-355.30 L324.53,-355.31 L324.89,-355.32 L325.25,-355.32 L325.62,-355.33 L325.98,-355.33 L326.34,-355.34 L326.71,-355.34 L327.07,-355.35 L327.43,-355.35 L327.80,-355.36 L328.16,-355.36 L328.52,-355.37 L328.89,-355.37 L329.25,-355.38" stroke="#EB9610"/>
<path d="M221.51,129.70 h4.8" stroke="#3028FA" stroke-width="1.3"/><path d="M234.76,96.35 h4.8" stroke="#3028FA" stroke-width="1.3"/><path d="M248.01,69.67 h4.8" stroke="#3028FA" stroke-width="1.3"/><path d="M224.82,83.68 h4.8" stroke="#FF8000" stroke-width="1.3"/><path d="M218.20,131.70 h4.8" stroke="#FF3030" stroke-width="1.3"/><path d="M231.45,131.70 h4.8" stroke="#FF3030" stroke-width="1.3"/><path d="M244.70,131.17 h4.8" stroke="#FF3030" stroke-width="1.3"/><path d="M257.95,128.36 h4.8" stroke="#FF3030" stroke-width="1.3"/><path d="M271.20,119.69 h4.8" stroke="#FF3030" stroke-width="1.3"/><path d="M284.45,107.42 h4.8" stroke="#FF3030" stroke-width="1.3"/><path d="M297.70,100.35 h4.8" stroke="#FF3030" stroke-width="1.3"/><path d="M310.95,98.75 h4.8" stroke="#FF3030" stroke-width="1.3"/><path d="M324.20,98.55 h4.8" stroke="#FF3030" stroke-width="1.3"/>
</g>
<rect x="220.45" y="65.3" width="108.65000000000003" height="66.39999999999999" fill="none" stroke="#5a5a5a" stroke-width="0.6"/>
<path d="M220.60,131.7 v-1.8 M220.60,65.3 v1.8 M227.22,131.7 v-1.1 M227.22,65.3 v1.1 M233.85,131.7 v-1.1 M233.85,65.3 v1.1 M240.47,131.7 v-1.1 M240.47,65.3 v1.1 M247.10,131.7 v-1.8 M247.10,65.3 v1.8 M253.72,131.7 v-1.1 M253.72,65.3 v1.1 M260.35,131.7 v-1.1 M260.35,65.3 v1.1 M266.98,131.7 v-1.1 M266.98,65.3 v1.1 M273.60,131.7 v-1.8 M273.60,65.3 v1.8 M280.23,131.7 v-1.1 M280.23,65.3 v1.1 M286.85,131.7 v-1.1 M286.85,65.3 v1.1 M293.48,131.7 v-1.1 M293.48,65.3 v1.1 M300.10,131.7 v-1.8 M300.10,65.3 v1.8 M306.73,131.7 v-1.1 M306.73,65.3 v1.1 M313.35,131.7 v-1.1 M313.35,65.3 v1.1 M319.98,131.7 v-1.1 M319.98,65.3 v1.1 M326.60,131.7 v-1.8 M326.60,65.3 v1.8 M220.45,131.70 h1.8 M329.1,131.70 h-1.8 M220.45,129.03 h1.1 M329.1,129.03 h-1.1 M220.45,126.36 h1.1 M329.1,126.36 h-1.1 M220.45,123.70 h1.1 M329.1,123.70 h-1.1 M220.45,121.03 h1.1 M329.1,121.03 h-1.1 M220.45,118.36 h1.8 M329.1,118.36 h-1.8 M220.45,115.69 h1.1 M329.1,115.69 h-1.1 M220.45,113.02 h1.1 M329.1,113.02 h-1.1 M220.45,110.36 h1.1 M329.1,110.36 h-1.1 M220.45,107.69 h1.1 M329.1,107.69 h-1.1 M220.45,105.02 h1.8 M329.1,105.02 h-1.8 M220.45,102.35 h1.1 M329.1,102.35 h-1.1 M220.45,99.68 h1.1 M329.1,99.68 h-1.1 M220.45,97.02 h1.1 M329.1,97.02 h-1.1 M220.45,94.35 h1.1 M329.1,94.35 h-1.1 M220.45,91.68 h1.8 M329.1,91.68 h-1.8 M220.45,89.01 h1.1 M329.1,89.01 h-1.1 M220.45,86.34 h1.1 M329.1,86.34 h-1.1 M220.45,83.68 h1.1 M329.1,83.68 h-1.1 M220.45,81.01 h1.1 M329.1,81.01 h-1.1 M220.45,78.34 h1.8 M329.1,78.34 h-1.8 M220.45,75.67 h1.1 M329.1,75.67 h-1.1 M220.45,73.00 h1.1 M329.1,73.00 h-1.1 M220.45,70.34 h1.1 M329.1,70.34 h-1.1 M220.45,67.67 h1.1 M329.1,67.67 h-1.1 M220.45,65.00 h1.8 M329.1,65.00 h-1.8" stroke="#444" stroke-width="0.5" fill="none"/>
<g class="in">
<text x="220.60" y="141.5" font-size="11.2" text-anchor="middle">0</text>
<text x="247.10" y="141.5" font-size="11.2" text-anchor="middle">20</text>
<text x="273.60" y="141.5" font-size="11.2" text-anchor="middle">40</text>
<text x="300.10" y="141.5" font-size="11.2" text-anchor="middle">60</text>
<text x="326.60" y="141.5" font-size="11.2" text-anchor="middle">80</text>
<text x="218.7" y="134.85" font-size="11.7" text-anchor="end">0.0</text>
<text x="218.7" y="121.44" font-size="11.7" text-anchor="end">0.1</text>
<text x="218.7" y="108.03" font-size="11.7" text-anchor="end">0.2</text>
<text x="218.7" y="94.62" font-size="11.7" text-anchor="end">0.3</text>
<text x="218.7" y="81.21" font-size="11.7" text-anchor="end">0.4</text>
<text x="218.7" y="67.80" font-size="11.7" text-anchor="end">0.5</text>
<text class="lb" x="274.9" y="156" text-anchor="middle">time (s)</text>
<g class="lb" transform="translate(183,0) rotate(-90)" font-size="11.5"><text x="-104.9" y="0" font-style="italic" textLength="6.85" lengthAdjust="spacingAndGlyphs">σ</text><text x="-96.5" y="0">,</text></g>
<text class="lb" transform="translate(197.9,115.1) rotate(-90)" font-size="11.5">J per K</text>
</g>
</svg>
</body></html>
